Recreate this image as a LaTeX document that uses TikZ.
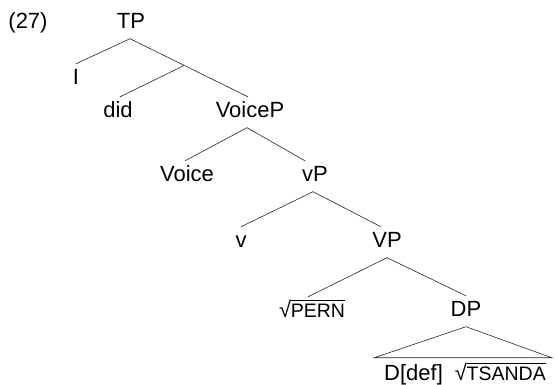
\documentclass[tikz,border=0pt]{standalone}
\usepackage{fontspec}
\setmainfont{Liberation Sans}
\usetikzlibrary{calc}
\newcommand{\rootsc}[1]{\mbox{√\kern-0.3pt\setbox0\hbox{\fontsize{19.5}{20}\selectfont #1}\rlap{\rule[17pt]{\wd0}{0.6pt}}\box0}}
\begin{document}
\begin{tikzpicture}[x=1pt,y=-1pt,
  lbl/.style={font=\fontsize{22}{26}\selectfont, text height=15.5pt, text depth=4pt, inner xsep=1pt, inner ysep=5.5pt, anchor=base},
  edge/.style={draw=black!85, line width=0.6pt}]
\useasboundingbox (0,0) rectangle (558,385);
\node[lbl] (ex) at (28,29) {(27)};
\node[lbl] (TP) at (131,29) {TP};
\node[lbl] (I) at (76,85) {I};
\node[lbl] (did) at (118,118) {did};
\node[lbl] (VoiceP) at (250,118) {VoiceP};
\node[lbl] (Voice) at (187,182) {Voice};
\node[lbl] (vP) at (315,182) {vP};
\node[lbl] (v) at (241,248) {v};
\node[lbl] (VP) at (387,248) {VP};
\node[lbl] (PERN) at (312,318) {\rootsc{PERN}};
\node[lbl] (DP) at (466,317) {DP};
\node[lbl] (leaf) at (465,381) {D[def]\hspace{12pt}\rootsc{TSANDA}};
\coordinate (TPa) at ([xshift=-1pt]TP.south);
\draw[edge] (TPa) -- (I.north);
\draw[edge] (TPa) -- ([xshift=-2pt]VoiceP.north);
\coordinate (m) at ($(TPa)!0.46!([xshift=-2pt]VoiceP.north)$);
\draw[edge] (m) -- ([xshift=2pt]did.north);
\draw[edge] ([xshift=-3pt]VoiceP.south) -- ([xshift=-2pt]Voice.north);
\draw[edge] ([xshift=-3pt]VoiceP.south) -- ([xshift=-10pt]vP.north);
\draw[edge] ([xshift=-2pt]vP.south) -- (v.north);
\draw[edge] ([xshift=-2pt]vP.south) -- ([xshift=-6pt]VP.north);
\draw[edge] (VP.south) -- ([xshift=-4pt]PERN.north);
\draw[edge] (VP.south) -- (DP.north);
\draw[edge] (DP.south) -- ([xshift=-9pt,yshift=2pt]leaf.north west) -- ([xshift=5pt,yshift=2pt]leaf.north east) -- cycle;
\end{tikzpicture}
\end{document}
